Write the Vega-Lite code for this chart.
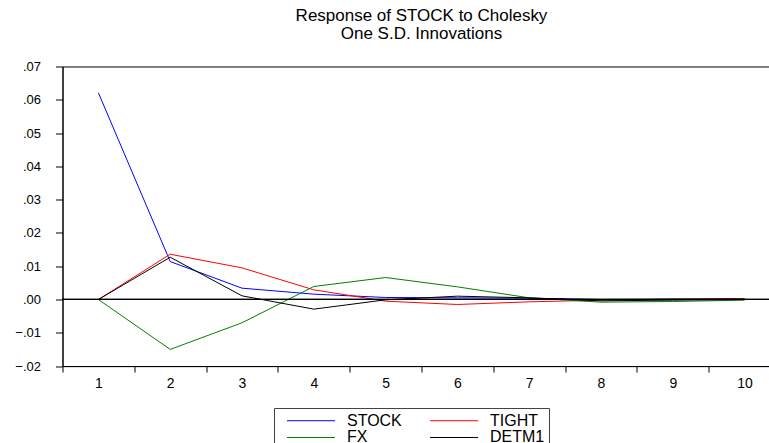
{
  "$schema": "https://vega.github.io/schema/vega-lite/v6.json",
  "autosize": {"type": "none"},
  "padding": {"left": 62.5, "top": 66.5, "right": 0, "bottom": 80},
  "width": 718,
  "height": 299.57,
  "background": "white",
  "config": {
    "font": "Liberation Sans",
    "view": {"stroke": "black", "strokeWidth": 1},
    "axis": {"grid": false, "domainColor": "black", "tickColor": "black", "labelColor": "black", "labelFont": "Liberation Sans"}
  },
  "title": {
    "text": ["Response of STOCK to Cholesky", "One S.D. Innovations"],
    "fontSize": 17,
    "fontWeight": "normal",
    "lineHeight": 18,
    "color": "black",
    "anchor": "middle",
    "offset": 17
  },
  "data": {
    "values": [
      {"period": 1, "series": "STOCK", "value": 0.0621},
      {"period": 2, "series": "STOCK", "value": 0.0114},
      {"period": 3, "series": "STOCK", "value": 0.0034},
      {"period": 4, "series": "STOCK", "value": 0.0016},
      {"period": 5, "series": "STOCK", "value": 0.0006},
      {"period": 6, "series": "STOCK", "value": 0.0005},
      {"period": 7, "series": "STOCK", "value": 0.0004},
      {"period": 8, "series": "STOCK", "value": 0.0000},
      {"period": 9, "series": "STOCK", "value": 0.0001},
      {"period": 10, "series": "STOCK", "value": 0.0002},
      {"period": 1, "series": "TIGHT", "value": 0.0},
      {"period": 2, "series": "TIGHT", "value": 0.0136},
      {"period": 3, "series": "TIGHT", "value": 0.0095},
      {"period": 4, "series": "TIGHT", "value": 0.0029},
      {"period": 5, "series": "TIGHT", "value": -0.0005},
      {"period": 6, "series": "TIGHT", "value": -0.0015},
      {"period": 7, "series": "TIGHT", "value": -0.0007},
      {"period": 8, "series": "TIGHT", "value": -0.0002},
      {"period": 9, "series": "TIGHT", "value": 0.0001},
      {"period": 10, "series": "TIGHT", "value": 0.0002},
      {"period": 1, "series": "FX", "value": 0.0},
      {"period": 2, "series": "FX", "value": -0.0150},
      {"period": 3, "series": "FX", "value": -0.0070},
      {"period": 4, "series": "FX", "value": 0.0039},
      {"period": 5, "series": "FX", "value": 0.0066},
      {"period": 6, "series": "FX", "value": 0.0038},
      {"period": 7, "series": "FX", "value": 0.0005},
      {"period": 8, "series": "FX", "value": -0.0008},
      {"period": 9, "series": "FX", "value": -0.0006},
      {"period": 10, "series": "FX", "value": -0.0002},
      {"period": 1, "series": "DETM1", "value": 0.0},
      {"period": 2, "series": "DETM1", "value": 0.0127},
      {"period": 3, "series": "DETM1", "value": 0.0011},
      {"period": 4, "series": "DETM1", "value": -0.0029},
      {"period": 5, "series": "DETM1", "value": -0.0001},
      {"period": 6, "series": "DETM1", "value": 0.0010},
      {"period": 7, "series": "DETM1", "value": 0.0005},
      {"period": 8, "series": "DETM1", "value": -0.0004},
      {"period": 9, "series": "DETM1", "value": -0.0002},
      {"period": 10, "series": "DETM1", "value": 0.0000}
    ]
  },
  "layer": [
    {
      "mark": {"type": "line", "strokeWidth": 1, "interpolate": "linear"},
      "encoding": {
        "x": {
          "field": "period",
          "type": "ordinal",
          "scale": {"type": "band", "paddingInner": 0, "paddingOuter": 0},
          "axis": {
            "title": null,
            "labelAngle": 0,
            "tickBand": "extent",
            "tickSize": 6,
            "labelPadding": 4,
            "labelFontSize": 14
          }
        },
        "y": {
          "field": "value",
          "type": "quantitative",
          "scale": {"domain": [-0.02, 0.07], "nice": false, "zero": false},
          "axis": {
            "title": null,
            "values": [-0.02, -0.01, 0, 0.01, 0.02, 0.03, 0.04, 0.05, 0.06, 0.07],
            "tickCount": 10,
            "labelExpr": "replace(format(datum.value, '.2f'), '0.', '.')",
            "labelOverlap": false,
            "labelFlush": false,
            "tickSize": 7,
            "labelPadding": 15,
            "labelFontSize": 13
          }
        },
        "color": {
          "field": "series",
          "type": "nominal",
          "scale": {
            "domain": ["STOCK", "TIGHT", "FX", "DETM1"],
            "range": ["#0000ff", "#ff0000", "#008000", "#000000"]
          },
          "legend": {
            "title": null,
            "orient": "none",
            "direction": "horizontal",
            "legendX": 211.5,
            "legendY": 341.5,
            "columns": 2,
            "gridAlign": "all",
            "columnPadding": 19,
            "rowPadding": 0,
            "padding": 4,
            "strokeColor": "#404040",
            "fillColor": "white",
            "symbolType": "M-3,0H3",
            "symbolSize": 256,
            "symbolStrokeWidth": 1,
            "symbolOffset": 24.5,
            "labelOffset": 27.5,
            "labelFontSize": 16,
            "labelColor": "black",
            "labelLimit": 200
          }
        }
      }
    },
    {
      "mark": {"type": "rule", "color": "black", "strokeWidth": 1},
      "encoding": {"y": {"datum": 0}}
    }
  ]
}
